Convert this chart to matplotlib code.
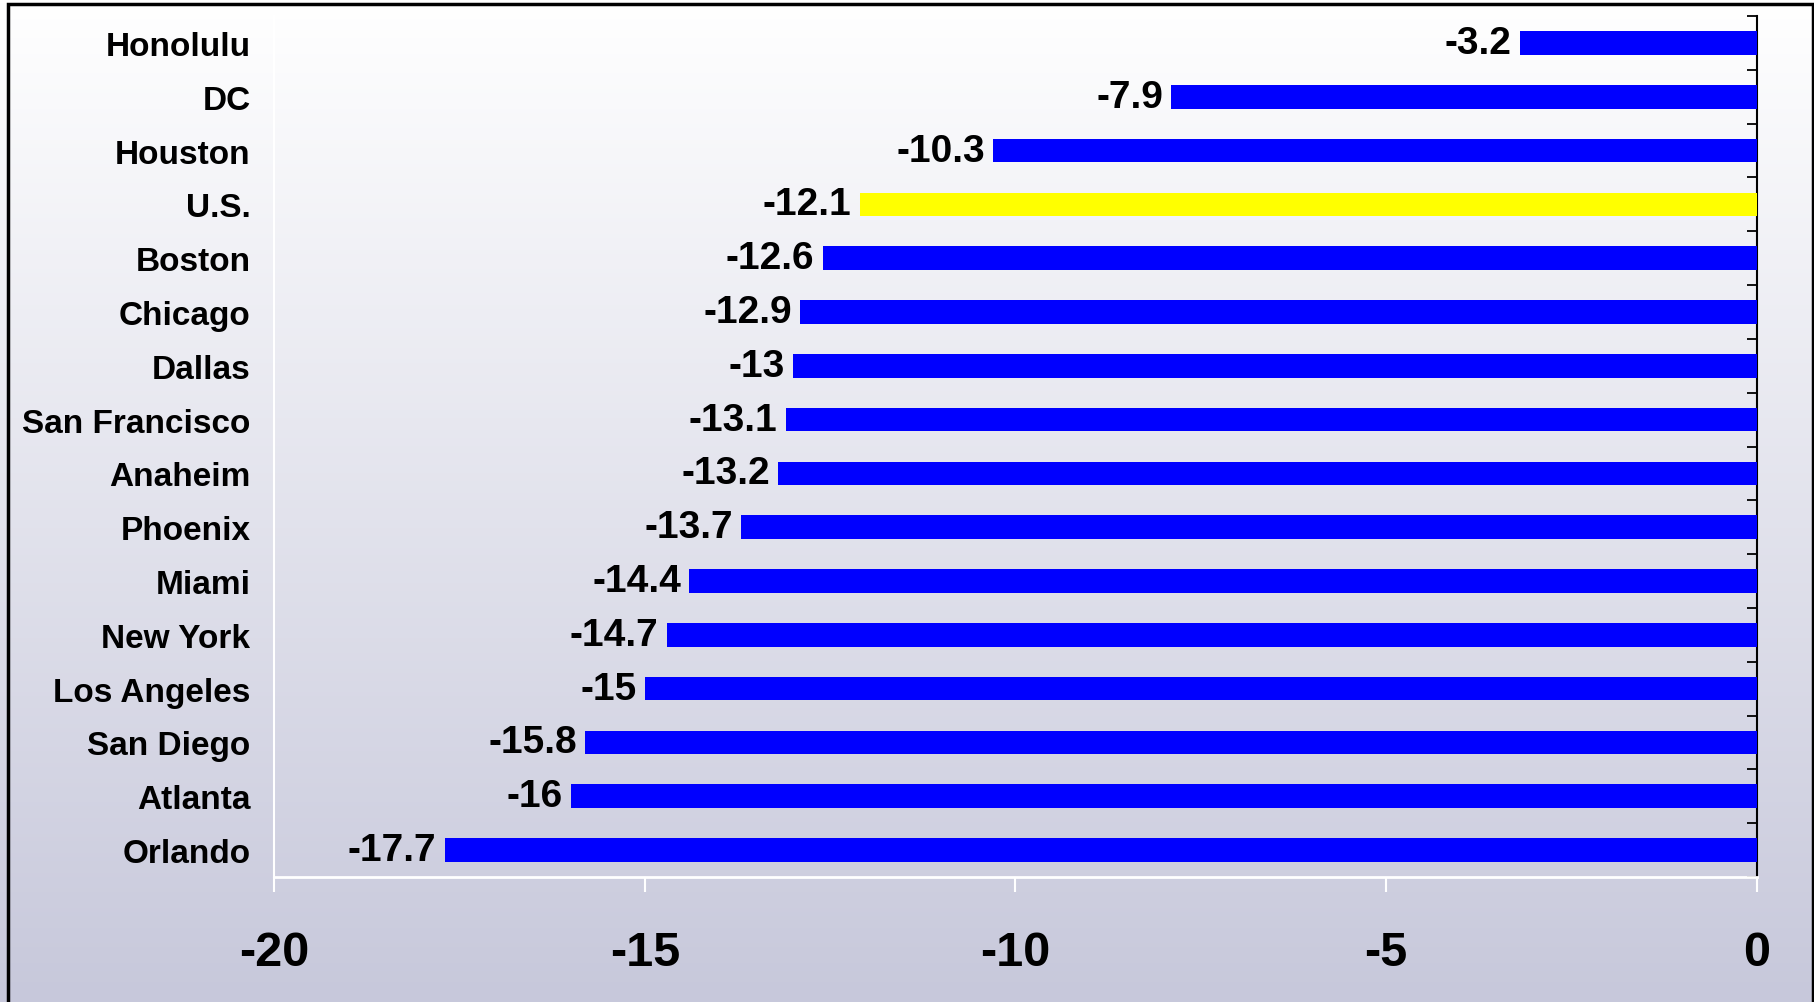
import numpy as np
import matplotlib.pyplot as plt
from matplotlib.patches import Rectangle
from matplotlib.ticker import FixedLocator

plt.rcParams['font.family'] = ['Liberation Sans', 'DejaVu Sans']
plt.rcParams['font.weight'] = 'bold'

cities = ["Honolulu", "DC", "Houston", "U.S.", "Boston", "Chicago", "Dallas",
          "San Francisco", "Anaheim", "Phoenix", "Miami", "New York",
          "Los Angeles", "San Diego", "Atlanta", "Orlando"]
values = [-3.2, -7.9, -10.3, -12.1, -12.6, -12.9, -13, -13.1, -13.2, -13.7,
          -14.4, -14.7, -15, -15.8, -16, -17.7]
highlight = "U.S."
x_ticks = [-20, -15, -10, -5, 0]

fig = plt.figure(figsize=(18.15, 10.03), dpi=100)

# vertical gradient behind everything
bg = fig.add_axes([0, 0, 1, 1], zorder=-10)
top = np.array([255, 255, 255]) / 255
bottom = np.array([199, 200, 219]) / 255
t = np.linspace(0, 1, 256)[:, None]
grad = top * (1 - t) + bottom * t
bg.imshow(grad[:, None, :], aspect='auto', extent=[0, 1, 0, 1])
bg.axis('off')

# frame around the chart
fig.patches.append(Rectangle((8 / 1815, -0.05), 1805 / 1815, 1 - 5 / 1003 + 0.05,
                             transform=fig.transFigure, fill=False,
                             edgecolor='black', linewidth=2.5, zorder=5))

ax = fig.add_axes([274 / 1815, 125 / 1003, (1757 - 274) / 1815, (878 - 17) / 1003])
ax.set_facecolor('none')

ypos = np.arange(len(cities))
colors = ['#ffff00' if c == highlight else '#0000ff' for c in cities]
ax.barh(ypos, values, height=0.44, color=colors, zorder=3)

for y, v in zip(ypos, values):
    ax.annotate('{:g}'.format(v), (v, y), xytext=(-6, 0), textcoords='offset points',
                ha='right', va='center', fontsize=28, fontweight='bold')

ax.set_xlim(-20, 0)
ax.set_ylim(len(cities) - 0.5, -0.5)

ax.set_yticks(ypos)
ax.set_yticklabels(cities, fontsize=24, fontweight='bold')
ax.tick_params(axis='y', which='major', length=0, pad=17)

# small boundary ticks on the right spine
ax.yaxis.set_minor_locator(FixedLocator(np.arange(-0.5, len(cities), 1)))
ax.tick_params(axis='y', which='minor', left=False, right=True, direction='in',
               length=7, width=1.3, color='black')

ax.set_xticks(x_ticks)
ax.set_xticklabels([str(v) for v in x_ticks], fontsize=35, fontweight='bold')
ax.tick_params(axis='x', direction='out', length=11, width=1.5, color='white', pad=27)

ax.spines['top'].set_visible(False)
ax.spines['right'].set_color('black')
ax.spines['right'].set_linewidth(1.5)
ax.spines['left'].set_color('white')
ax.spines['left'].set_linewidth(1.5)
ax.spines['bottom'].set_color('white')
ax.spines['bottom'].set_linewidth(2)

plt.savefig('out.png', dpi=100)
